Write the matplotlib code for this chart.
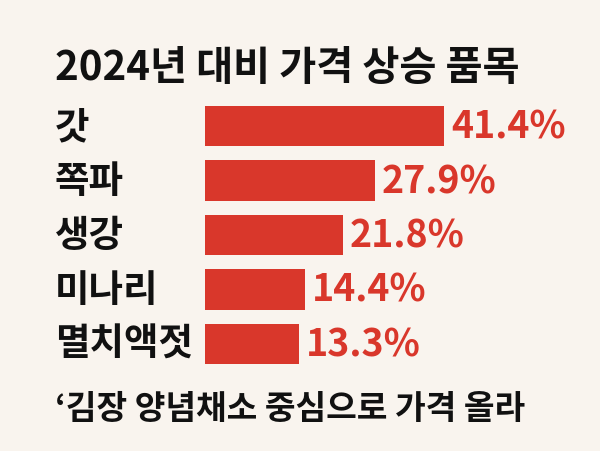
import matplotlib
matplotlib.use("Agg")
import matplotlib.pyplot as plt

categories = ["갓", "쪽파", "생강", "미나리", "멸치액젓"]
values = [41.4, 27.9, 21.8, 14.4, 13.3]
title = "2024년 대비 가격 상승 품목"
footer = "‘김장 양념채소 중심으로 가격 올라"

plt.rcParams['font.family'] = ['Noto Sans CJK KR', 'DejaVu Sans']
bg = "#f9f4ee"
red = "#d9372b"
scale = 5.16  # px per unit
base = -5.0
fig = plt.figure(figsize=(6, 4.52), dpi=100, facecolor=bg)
ax = fig.add_axes([205/600, 1-372/452, 390/600, 272/452])
ax.set_facecolor(bg)
y = list(range(len(categories)))
ax.barh(y, [v - base for v in values], left=base, height=0.74, color=red)
ax.set_xlim(base, base + 390/scale)
ax.set_ylim(len(categories)-0.5, -0.5)
for i, v in enumerate(values):
    ax.text(v + 1.3, i, f"{v}%", color=red, fontsize=27, fontweight='bold', va='center', ha='left')
    fig.text(55/600, 1-(127+54.4*i)/452, categories[i], fontsize=27, fontweight='bold', va='center', ha='left', color='#111111')
ax.axis('off')
fig.text(55/600, 1-68/452, title, fontsize=29, fontweight='bold', va='center', ha='left', color='#111111')
fig.text(55/600, 1-410/452, footer, fontsize=24, fontweight='bold', va='center', ha='left', color='#111111')
fig.savefig("out.png", dpi=100, facecolor=bg)
